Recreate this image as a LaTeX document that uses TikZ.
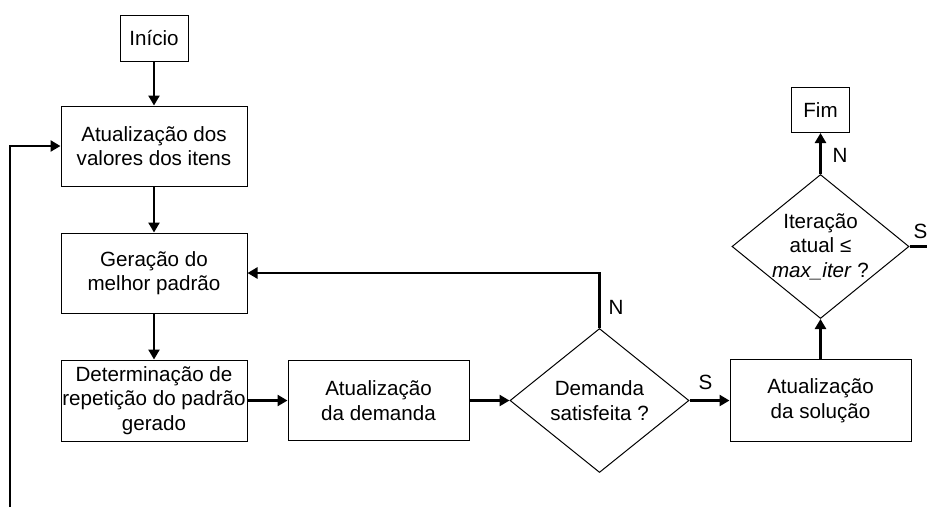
\documentclass[tikz,border=0pt]{standalone}
\usepackage{fontspec}
\setmainfont{Liberation Sans}
\usepackage{tikz}
\usetikzlibrary{positioning,shapes.geometric,arrows.meta}

\begin{document}
\begin{tikzpicture}[x=1pt, y=-1pt,
  font=\fontsize{20.6}{24.5}\selectfont,
  txt/.style={align=center, inner sep=0pt},
  box/.style={draw, line width=1pt, txt, minimum width=186pt, minimum height=80pt},
  terminal/.style={draw, line width=1pt, txt, minimum height=46pt},
  decision/.style={draw, line width=1pt, diamond, inner sep=0pt, minimum width=179pt, minimum height=144pt},
  lbl/.style={inner sep=0pt},
  link/.style={line width=2.6pt},
  flow/.style={link, -{Triangle[length=10pt,width=11pt]}}]
\useasboundingbox (0,0) rectangle (927,507);
\node[terminal, minimum width=68pt] (inicio) at (154,38) {Início};
\node[box, below=44pt of inicio] (valores) {Atualização dos\\valores dos itens};
\node[box, below=46pt of valores] (geracao) {Geração do\\melhor padrão};
\node[box, below=46pt of geracao, minimum height=81pt] (determ) {Determinação de\\repetição do padrão\\gerado};
\node[box, right=40pt of determ, minimum width=181pt] (demanda) {Atualização\\da demanda};
\node[decision, right=40pt of demanda, label={[txt]center:Demanda\\satisfeita ?}] (dem) {};
\node[box, right=40pt of dem, minimum width=181pt, minimum height=82pt] (solucao) {Atualização\\da solução};
\node[decision, above=40pt of solucao, minimum width=177pt, label={[txt]center:Iteração\\atual ≤\\\textit{max\_iter} ?}] (iter) {};
\node[terminal, above=41pt of iter, minimum width=58pt, minimum height=45pt] (fim) {Fim};
\coordinate (loopbot) at (10,507);
\coordinate (exitS) at (927,244);
% labels
\node[lbl, anchor=south west] (nDem) at ([shift={(9,-13)}]dem.north) {N};
\node[lbl, anchor=south west] (sDem) at ([shift={(9,-11)}]dem.east) {S};
\node[lbl, anchor=south west] (nIter) at ([shift={(12,-11)}]iter.north) {N};
\node[lbl, anchor=south west] (sIter) at ([shift={(4,-8)}]iter.east) {S};
% connectors
\draw[flow] (inicio) -- (valores);
\draw[flow] (valores) -- (geracao);
\draw[flow] (geracao) -- (determ);
\draw[flow] (determ) -- (demanda);
\draw[flow] (demanda) -- (dem);
\draw[flow] (dem) -- (solucao);
\draw[flow] (solucao) -- (iter);
\draw[flow] (iter) -- (fim);
\draw[flow] (dem.north) |- (geracao.east);
\draw[flow] (loopbot) |- (valores.west);
\draw[link] (iter.east) -- (iter.east -| exitS);
\end{tikzpicture}
\end{document}
